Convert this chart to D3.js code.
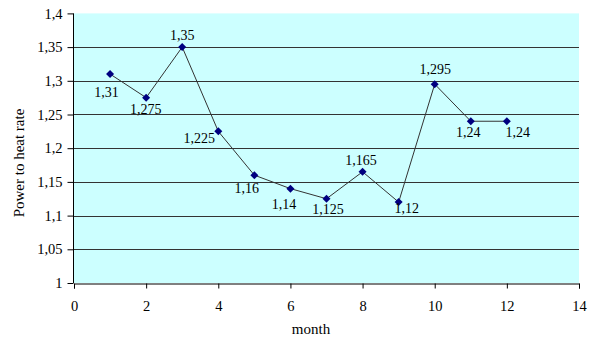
<!DOCTYPE html>
<html><head><meta charset="utf-8">
<script src="https://cdn.jsdelivr.net/npm/d3@7"></script>
<style>
html,body{margin:0;padding:0;background:#fff;}
svg{display:block;}
text{font-family:"Liberation Serif","Times New Roman",serif;fill:#000;}
</style></head>
<body>
<script>
const months = [1,2,3,4,5,6,7,8,9,10,11,12];
const values = [1.31,1.275,1.35,1.225,1.16,1.14,1.125,1.165,1.12,1.295,1.24,1.24];
const labels = ["1,31","1,275","1,35","1,225","1,16","1,14","1,125","1,165","1,12","1,295","1,24","1,24"];
const xTicks = [0,2,4,6,8,10,12,14];
const yTicks = [1,1.05,1.1,1.15,1.2,1.25,1.3,1.35,1.4];
const yTickLabels = ["1","1,05","1,1","1,15","1,2","1,25","1,3","1,35","1,4"];
// label placement offsets (dx to centre, dy to baseline), in px
const labelDx = [-3.5,-0.5,0,-19,-7.5,-6.5,1.5,-1.5,8,0.5,-2.5,11];
const labelDy = [22.5,16,-7,12,18,20,15,-7,11,-10,16,16];

const W=589,H=338;
const svg=d3.select("body").append("svg").attr("width",W).attr("height",H);
const x=d3.scaleLinear().domain([0,14]).range([74,579]);
const y=d3.scaleLinear().domain([1,1.4]).range([283,13.4]);

svg.append("rect").attr("x",x(0)).attr("y",y(1.4)).attr("width",x(14)-x(0)).attr("height",y(1)-y(1.4)).attr("fill","#ccffff");

// gridlines
svg.append("g").selectAll("line").data(yTicks.filter(d=>d>1&&d<1.4)).join("line")
  .attr("x1",x(0)).attr("x2",x(14))
  .attr("y1",d=>Math.round(y(d))+0.5).attr("y2",d=>Math.round(y(d))+0.5)
  .attr("stroke","#333").attr("stroke-width",1);

// axes
const yAxis=d3.axisLeft(y).tickValues(yTicks).tickFormat((d,i)=>yTickLabels[i]).tickSize(6).tickPadding(5);
const gy=svg.append("g").attr("transform",`translate(${x(0)-0.5},0)`).call(yAxis);
const xAxis=d3.axisBottom(x).tickValues(xTicks).tickSize(5).tickPadding(12);
const gx=svg.append("g").attr("transform",`translate(0,${Math.round(y(1))+0.5})`).call(xAxis);
[gx,gy].forEach(g=>{
  g.select(".domain").attr("stroke","#000");
  g.selectAll(".tick line").attr("stroke","#000");
  g.selectAll(".tick text").attr("font-family","Liberation Serif, serif").attr("font-size",14.5).attr("fill","#111");
});
gy.select(".domain").attr("d",`M0,${y(1.4)}V${y(1)}`);

// line
const pts=months.map((m,i)=>[x(m),y(values[i])]);
svg.append("path").datum(pts).attr("d",d3.line()).attr("fill","none").attr("stroke","#333").attr("stroke-width",1);

// markers
svg.append("g").selectAll("path").data(pts).join("path")
  .attr("transform",d=>`translate(${d[0]},${d[1]})`)
  .attr("d","M0,-4L4,0L0,4L-4,0Z").attr("fill","#000080");

// data labels
svg.append("g").selectAll("text").data(pts).join("text")
  .attr("x",(d,i)=>d[0]+labelDx[i]).attr("y",(d,i)=>d[1]+labelDy[i])
  .attr("text-anchor","middle").attr("font-size",14).attr("fill","#111").text((d,i)=>labels[i]);

// titles
svg.append("text").attr("x",311).attr("y",334).attr("text-anchor","middle").attr("font-size",15).attr("fill","#111").text("month");
svg.append("text").attr("transform","translate(24,163) rotate(-90)").attr("text-anchor","middle").attr("font-size",15).attr("fill","#111").text("Power to heat rate");
</script>
</body></html>
